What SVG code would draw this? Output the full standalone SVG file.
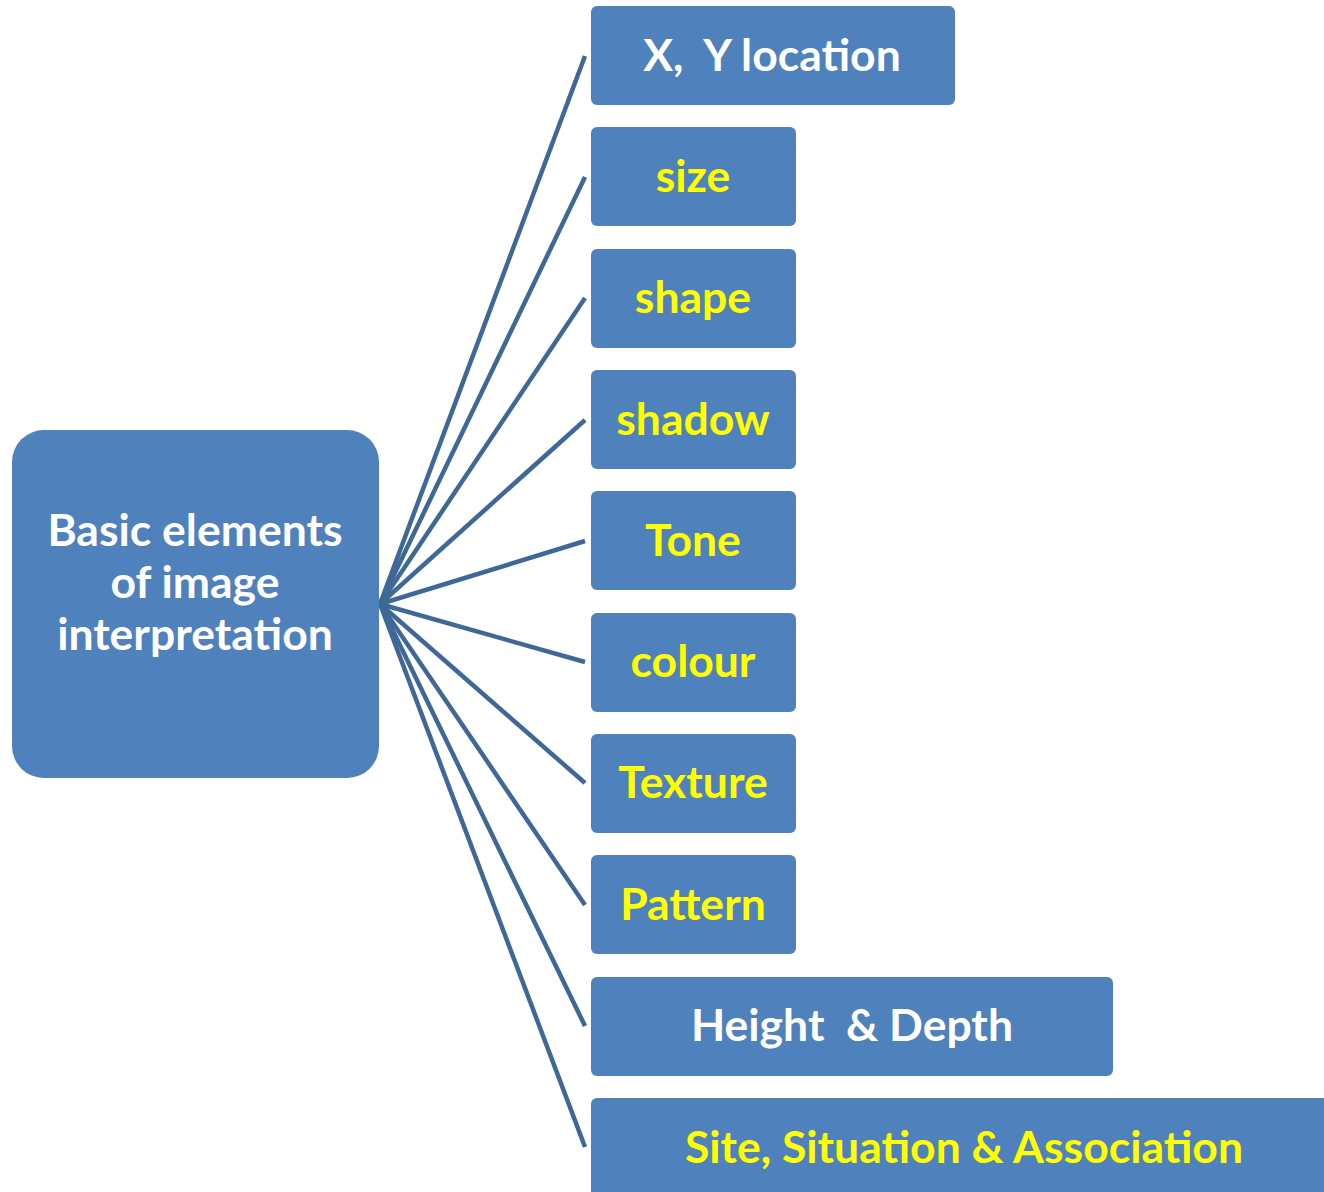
<svg xmlns="http://www.w3.org/2000/svg" width="1324" height="1192" viewBox="0 0 1324 1192">
<style>
.box{fill:#4F81BD;}
.t{font-family:Lato,"Open Sans","Liberation Sans",sans-serif;font-weight:bold;font-size:44.5px;text-anchor:middle;white-space:pre;}
.w{fill:#FFFFFF;}
.y{fill:#FFFF00;}
.c{stroke:#3F6898;stroke-width:4.5;fill:none;}
</style>
<rect width="1324" height="1192" fill="#FFFFFF"/>
<g id="connectors">
<line class="c" x1="380" y1="604" x2="585" y2="56"/>
<line class="c" x1="380" y1="604" x2="585" y2="177"/>
<line class="c" x1="380" y1="604" x2="585" y2="298"/>
<line class="c" x1="380" y1="604" x2="585" y2="420"/>
<line class="c" x1="380" y1="604" x2="585" y2="541"/>
<line class="c" x1="380" y1="604" x2="585" y2="662"/>
<line class="c" x1="380" y1="604" x2="585" y2="783"/>
<line class="c" x1="380" y1="604" x2="585" y2="905"/>
<line class="c" x1="380" y1="604" x2="585" y2="1026"/>
<line class="c" x1="380" y1="604" x2="585" y2="1147"/>
</g>
<g id="center">
<rect class="box" x="12" y="430" width="367" height="348" rx="32"/>
<text class="t w" x="195" y="546">Basic elements</text>
<text class="t w" x="195" y="598">of image</text>
<text class="t w" x="195" y="650">interpretation</text>
</g>
<g id="n1"><rect class="box" x="591" y="6" width="364" height="99" rx="6"/><text class="t w" x="772" y="71" xml:space="preserve">X,  Y location</text></g>
<g id="n2"><rect class="box" x="591" y="127" width="205" height="99" rx="6"/><text class="t y" x="693" y="192">size</text></g>
<g id="n3"><rect class="box" x="591" y="249" width="205" height="99" rx="6"/><text class="t y" x="693" y="313">shape</text></g>
<g id="n4"><rect class="box" x="591" y="370" width="205" height="99" rx="6"/><text class="t y" x="693" y="435">shadow</text></g>
<g id="n5"><rect class="box" x="591" y="491" width="205" height="99" rx="6"/><text class="t y" x="693" y="556">Tone</text></g>
<g id="n6"><rect class="box" x="591" y="613" width="205" height="99" rx="6"/><text class="t y" x="693" y="677">colour</text></g>
<g id="n7"><rect class="box" x="591" y="734" width="205" height="99" rx="6"/><text class="t y" x="693" y="798">Texture</text></g>
<g id="n8"><rect class="box" x="591" y="855" width="205" height="99" rx="6"/><text class="t y" x="693" y="920">Pattern</text></g>
<g id="n9"><rect class="box" x="591" y="977" width="522" height="99" rx="6"/><text class="t w" x="852" y="1041" xml:space="preserve">Height  &amp; Depth</text></g>
<g id="n10"><rect class="box" x="591" y="1098" width="740" height="110" rx="6"/><text class="t y" x="964" y="1163">Site, Situation &amp; Association</text></g>
</svg>
